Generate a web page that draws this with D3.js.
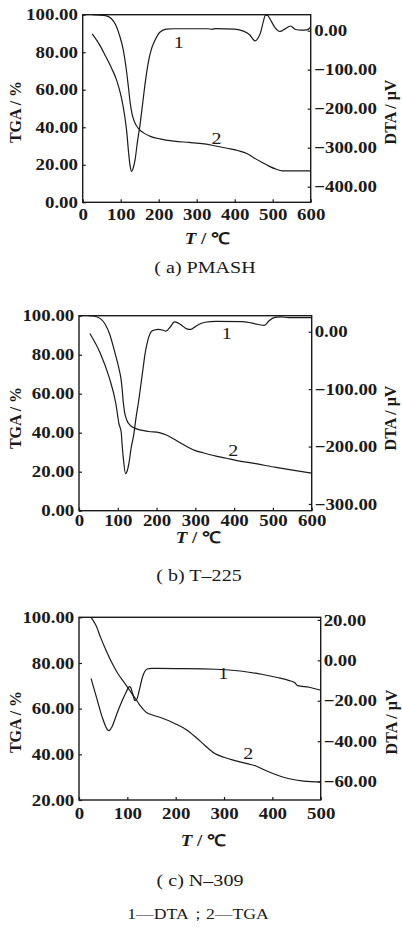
<!DOCTYPE html>
<html>
<head>
<meta charset="utf-8">
<script src="https://cdnjs.cloudflare.com/ajax/libs/d3/7.8.5/d3.min.js"></script>
<style>
body { margin: 0; background: #fff; }
text { font-family: "Liberation Serif", "Times New Roman", serif; fill: #1a1a1a; }
</style>
</head>
<body>
<div id="chart"></div>
<script>
// (a) PMASH  [T, value]
const tgaA = [[25,100],[60,99.5],[75,98],[87,94.5],[97,89],[107,81],[114,72],[120,62],[125,53],[130,47],[137,42.5],[146,39.5],[160,37],[180,35],[203,33.8],[240,32.6],[280,31.9],[320,31.1],[350,30],[380,28.8],[410,27.5],[432,26],[450,23.8],[470,21.5],[490,19.3],[510,17.6],[525,16.8],[600,16.8]];
const dtaA = [[25,-8],[45,-37],[60,-65],[76,-96],[89,-126],[102,-172],[110,-215],[116,-260],[121,-315],[125,-348],[129,-361],[133,-352],[138,-330],[144,-285],[151,-240],[158,-185],[165,-130],[172,-85],[180,-50],[190,-25],[203,-4],[220,4],[240,5],[330,5],[340,3.5],[350,5.5],[400,4],[423,-1],[440,-11],[453,-26],[462,-18],[468,-5],[475,22],[481,40],[487,39],[493,30],[506,8],[519,-2],[532,4],[547,12],[560,3],[575,1.5],[590,2],[600,9]];

// (b) T-225
const tgaB = [[25,100],[40,99.7],[55,98.5],[68,95.5],[80,90],[90,83],[98,77],[104,72],[108,68],[111,63],[114,56],[118,50],[123,46.5],[131,44],[145,42.2],[160,41.3],[180,40.6],[207,40],[225,38.8],[240,37.3],[260,35],[280,32.7],[300,30.8],[320,29.7],[353,28],[380,26.9],[405,25.8],[456,24.1],[508,22.2],[551,20.8],[600,19.3]];
const dtaB = [[28,-3],[54,-36],[78,-80],[95,-125],[103,-160],[109,-176],[111,-195],[115,-225],[120,-247],[124,-243],[129,-228],[135,-200],[141,-180],[147,-150],[154,-120],[160,-90],[165,-65],[170,-40],[175,-22],[180,-9],[186,0],[195,3],[204,4],[215,3],[224,1],[235,8],[246,17],[256,15],[266,10.5],[278,5],[288,4],[298,8],[310,13],[325,16.5],[353,18],[422,17.5],[460,13],[478,11],[490,19],[505,25],[520,26],[540,24.5],[600,24.5]];

// (c) N-309
const tgaC = [[25,100],[35,96.5],[45,91],[55,86],[67,80.5],[80,75.5],[95,71],[108,67],[118,64],[125,61.8],[138,58.6],[155,57],[170,56],[200,53.3],[222,50.8],[240,47.8],[260,44],[280,40.5],[300,38.7],[325,37.1],[350,35.8],[366,34.9],[385,33],[405,31.3],[435,29.3],[465,28.3],[500,27.9]];
const dtaC = [[25,-9],[35,-17.3],[49,-28.8],[58,-34],[62,-34.8],[68,-33],[76,-28],[84,-23],[92,-18.5],[98,-15.5],[104,-13],[107,-13.5],[111,-16.5],[116,-20],[120,-19],[125,-14.5],[131,-8.5],[136,-5.5],[141,-4.3],[150,-4],[200,-4.1],[283,-4.4],[338,-5.4],[380,-7],[410,-8.5],[435,-10],[446,-11],[452,-12.5],[476,-13.3],[500,-14.8]];

const tempTicks600 = [0,100,200,300,400,500,600];
const tempTicks500 = [0,100,200,300,400,500];
const tgaTicks0 = [0,20,40,60,80,100];
const tgaTicks20 = [20,40,60,80,100];
const dtaTicksA = [0,-100,-200,-300,-400];
const dtaTicksB = [0,-100,-200,-300];
const dtaTicksC = [20,0,-20,-40,-60];
const captions = ['( a) PMASH', '( b) T–225', '( c) N–309'];
const legendText = '1—DTA；2—TGA';

const W = 402, H = 930;
const SX = 1.18;
const fmt = d3.format('.2f');

const panels = [
  {tga: tgaA, dta: dtaA, xMax: 600, tgaMin: 0, dtaDom: [-440, 41], xTicks: tempTicks600, yTicks: tgaTicks0, rTicks: dtaTicksA,
   box: [82.7, 14.7, 310.7, 202.3], xPad: 6, rPad: 3, titleX: 207, titleY: 244, capX: 205, capY: 273, yMid: 112, rLabX: 390,
   lab1: [253, -28], lab2: [352, 34.3]},
  {tga: tgaB, dta: dtaB, xMax: 600, tgaMin: 0, dtaDom: [-311.7, 27.9], xTicks: tempTicks600, yTicks: tgaTicks0, rTicks: dtaTicksB,
   box: [79, 315.7, 311.7, 510.7], xPad: 3.5, rPad: 2.5, titleX: 198, titleY: 543, capX: 199, capY: 581, yMid: 418, rLabX: 390,
   lab1: [381, -3], lab2: [398, 31.1]},
  {tga: tgaC, dta: dtaC, xMax: 500, tgaMin: 20, dtaDom: [-69.1, 21.3], xTicks: tempTicks500, yTicks: tgaTicks20, rTicks: dtaTicksC,
   box: [79, 617.3, 320.7, 800], xPad: 8, rPad: 2.5, titleX: 203, titleY: 846, capX: 200, capY: 886, yMid: 722, rLabX: 391,
   lab1: [298.5, -6.4], lab2: [350, 40.4]}
];

const svg = d3.select('#chart').append('svg')
              .attr('width', W)
              .attr('height', H);

const styleAxis = sel => {
  sel.attr('font-family', null).attr('font-size', null);
  sel.select('.domain').remove();
  sel.selectAll('line').attr('stroke', '#1a1a1a').attr('stroke-width', 1.2);
  sel.selectAll('text')
     .attr('fill', '#1a1a1a')
     .style('font-size', '16px')
     .style('font-weight', 'bold')
     .attr('transform', `scale(${SX},1)`);
};

panels.forEach((p, i) => {
  const [x0, y0, x1, y1] = p.box;
  const x = d3.scaleLinear().domain([0, p.xMax]).range([x0, x1]);
  const yL = d3.scaleLinear().domain([p.tgaMin, 100]).range([y1, y0]);
  const yR = d3.scaleLinear().domain(p.dtaDom).range([y1, y0]);
  const g = svg.append('g');

  g.append('clipPath').attr('id', 'clip' + i)
   .append('rect')
   .attr('x', x0).attr('y', y0)
   .attr('width', x1 - x0).attr('height', y1 - y0);

  g.append('g')
   .attr('transform', `translate(${x0},0)`)
   .call(d3.axisLeft(yL).tickValues(p.yTicks).tickFormat(fmt).tickSizeInner(-3).tickSizeOuter(0).tickPadding(4))
   .call(styleAxis);

  g.append('g')
   .attr('transform', `translate(${x1},0)`)
   .call(d3.axisRight(yR).tickValues(p.rTicks).tickFormat(fmt).tickSizeInner(-3).tickSizeOuter(0).tickPadding(p.rPad))
   .call(styleAxis);

  g.append('g')
   .attr('transform', `translate(0,${y1})`)
   .call(d3.axisBottom(x).tickValues(p.xTicks).tickFormat(d3.format('d')).tickSizeInner(-3).tickSizeOuter(0).tickPadding(p.xPad))
   .call(styleAxis);

  g.append('rect')
   .attr('x', x0).attr('y', y0)
   .attr('width', x1 - x0).attr('height', y1 - y0)
   .attr('fill', 'none')
   .attr('stroke', '#1a1a1a')
   .attr('stroke-width', 1.4);

  const lineL = d3.line().x(d => x(d[0])).y(d => yL(d[1])).curve(d3.curveMonotoneX);
  const lineR = d3.line().x(d => x(d[0])).y(d => yR(d[1])).curve(d3.curveMonotoneX);

  g.append('path')
   .datum(p.tga)
   .attr('d', lineL)
   .attr('clip-path', `url(#clip${i})`)
   .attr('fill', 'none')
   .attr('stroke', '#1a1a1a')
   .attr('stroke-width', 1.2);

  g.append('path')
   .datum(p.dta)
   .attr('d', lineR)
   .attr('clip-path', `url(#clip${i})`)
   .attr('fill', 'none')
   .attr('stroke', '#1a1a1a')
   .attr('stroke-width', 1.2);

  // curve numbers
  [[p.lab1, yR, '1'], [p.lab2, yL, '2']].forEach(([pos, sc, t]) => {
    g.append('text')
     .attr('transform', `translate(${x(pos[0])},${sc(pos[1])}) scale(${SX},1)`)
     .attr('text-anchor', 'middle')
     .attr('dy', '0.35em')
     .style('font-size', '17px')
     .text(t);
  });

  g.append('text')
   .attr('transform', `translate(15,${p.yMid}) rotate(-90)`)
   .attr('text-anchor', 'middle')
   .attr('dy', '0.35em')
   .style('font-size', '16px')
   .style('font-weight', 'bold')
   .text('TGA / %');

  g.append('text')
   .attr('transform', `translate(${p.rLabX},${p.yMid}) rotate(-90)`)
   .attr('text-anchor', 'middle')
   .attr('dy', '0.35em')
   .style('font-size', '16px')
   .style('font-weight', 'bold')
   .text('DTA / μV');

  const tt = g.append('text')
   .attr('transform', `translate(${p.titleX},${p.titleY}) scale(${SX},1)`)
   .attr('text-anchor', 'middle')
   .style('font-size', '16px')
   .style('font-weight', 'bold');
  tt.append('tspan').style('font-style', 'italic').text('T');
  tt.append('tspan').text(' / ℃');

  g.append('text')
   .attr('transform', `translate(${p.capX},${p.capY}) scale(${SX},1)`)
   .attr('text-anchor', 'middle')
   .style('font-size', '17px')
   .text(captions[i]);
});

svg.append('text')
   .attr('transform', `translate(198,919) scale(${SX},1)`)
   .attr('text-anchor', 'middle')
   .style('font-size', '15px')
   .text(legendText);
</script>
</body>
</html>
